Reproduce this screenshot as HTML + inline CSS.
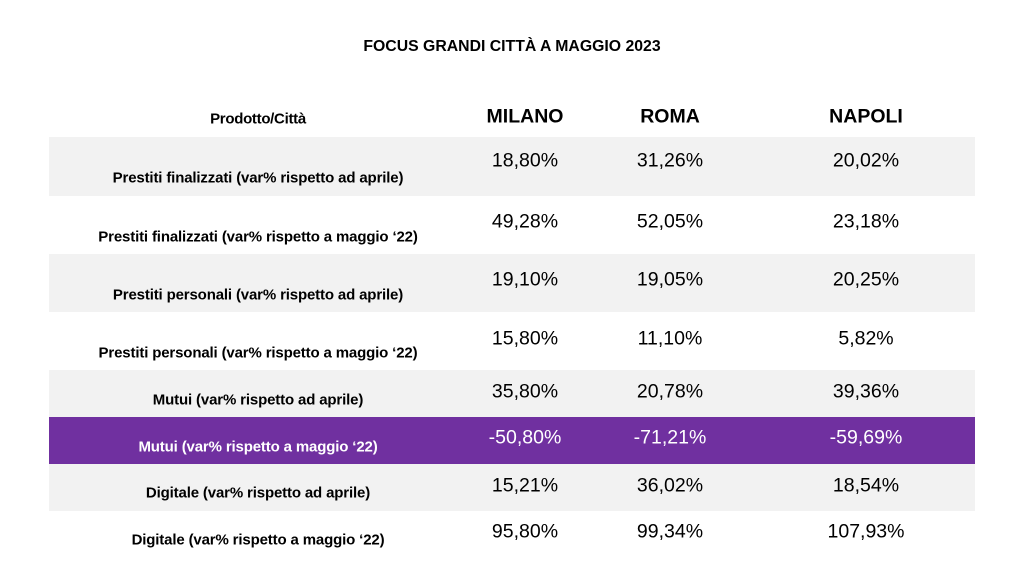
<!DOCTYPE html>
<html><head><meta charset="utf-8"><style>
body{margin:0;width:1024px;height:576px;background:#fff;position:relative;overflow:hidden;font-family:"Liberation Sans",Arial,sans-serif;color:#000}
.a{position:absolute;white-space:nowrap;transform:translate(-50%,-50%)}
.r{position:absolute;left:49px;width:926px}
.l{font-size:15px;font-weight:bold;letter-spacing:-0.15px}
.v{font-size:19.5px}
.h{font-size:19.5px;font-weight:bold}
</style></head><body>
<div class="a" style="left:512px;top:47px;font-size:15.8px;font-weight:bold">FOCUS GRANDI CITTÀ A MAGGIO 2023</div>
<div class="a" style="left:258px;top:119px;font-size:15px;font-weight:bold;letter-spacing:-0.3px">Prodotto/Città</div>
<div class="a h" style="left:525px;top:117px">MILANO</div>
<div class="a h" style="left:670px;top:117px">ROMA</div>
<div class="a h" style="left:866px;top:117px">NAPOLI</div>
<div class="r" style="top:137px;height:59px;background:#f2f2f2"></div>
<div class="r" style="top:254px;height:58px;background:#f2f2f2"></div>
<div class="r" style="top:370px;height:47px;background:#f2f2f2"></div>
<div class="r" style="top:417px;height:47px;background:#7030a0"></div>
<div class="r" style="top:464px;height:47px;background:#f2f2f2"></div>

<div class="a l" style="left:258px;top:178px">Prestiti finalizzati (var% rispetto ad aprile)</div>
<div class="a l" style="left:258px;top:237px">Prestiti finalizzati (var% rispetto a maggio ‘22)</div>
<div class="a l" style="left:258px;top:295px">Prestiti personali (var% rispetto ad aprile)</div>
<div class="a l" style="left:258px;top:353px">Prestiti personali (var% rispetto a maggio ‘22)</div>
<div class="a l" style="left:258px;top:400px">Mutui (var% rispetto ad aprile)</div>
<div class="a l" style="left:258px;top:447px;color:#fff">Mutui (var% rispetto a maggio ‘22)</div>
<div class="a l" style="left:258px;top:493px">Digitale (var% rispetto ad aprile)</div>
<div class="a l" style="left:258px;top:540px">Digitale (var% rispetto a maggio ‘22)</div>

<div class="a v" style="left:525px;top:161px">18,80%</div><div class="a v" style="left:670px;top:161px">31,26%</div><div class="a v" style="left:866px;top:161px">20,02%</div>
<div class="a v" style="left:525px;top:222px">49,28%</div><div class="a v" style="left:670px;top:222px">52,05%</div><div class="a v" style="left:866px;top:222px">23,18%</div>
<div class="a v" style="left:525px;top:280px">19,10%</div><div class="a v" style="left:670px;top:280px">19,05%</div><div class="a v" style="left:866px;top:280px">20,25%</div>
<div class="a v" style="left:525px;top:339px">15,80%</div><div class="a v" style="left:670px;top:339px">11,10%</div><div class="a v" style="left:866px;top:339px">5,82%</div>
<div class="a v" style="left:525px;top:392px">35,80%</div><div class="a v" style="left:670px;top:392px">20,78%</div><div class="a v" style="left:866px;top:392px">39,36%</div>
<div class="a v" style="left:525px;top:438px;color:#fff">-50,80%</div><div class="a v" style="left:670px;top:438px;color:#fff">-71,21%</div><div class="a v" style="left:866px;top:438px;color:#fff">-59,69%</div>
<div class="a v" style="left:525px;top:486px">15,21%</div><div class="a v" style="left:670px;top:486px">36,02%</div><div class="a v" style="left:866px;top:486px">18,54%</div>
<div class="a v" style="left:525px;top:532px">95,80%</div><div class="a v" style="left:670px;top:532px">99,34%</div><div class="a v" style="left:866px;top:532px">107,93%</div>
</body></html>
